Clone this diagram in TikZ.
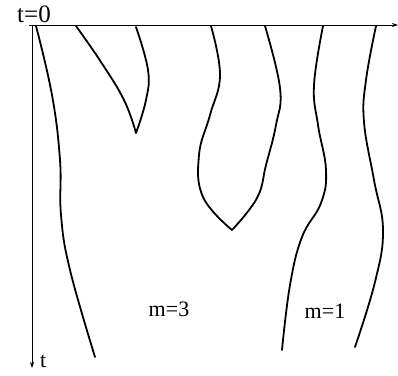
\documentclass[tikz,border=0pt]{standalone}
\usepackage{fontspec}
\setmainfont{Liberation Serif}
\usetikzlibrary{arrows.meta}
\tikzset{
  axis/.style={line width=0.9pt,-{Stealth[length=6pt,width=4pt]}},
  front/.style={line width=1.8pt,line cap=round,line join=round},
  lbl/.style={font=\fontsize{22}{26}\selectfont,inner sep=0pt}
}
\begin{document}
\begin{tikzpicture}[x=1pt,y=-1pt]
\useasboundingbox (0,0) rectangle (398,375);
% axes
\coordinate (o) at (32,25);
\coordinate (hs) at (29,25);
\coordinate (he) at (398,25);
\coordinate (ve) at (32,368);
\draw[axis] (hs) -- (he);
\draw[axis] (o) -- (ve);
\node[lbl,font=\fontsize{25}{28}\selectfont] (t0) at (34,14) {t=0};
\node[lbl,anchor=west] (t) at (40,361) {t};
\node[lbl] (m3) at (169,309) {m=3};
\node[lbl] (m1) at (325,311) {m=1};
% curve 1
\draw[front] plot[smooth,tension=0.7] coordinates {(36,26) (52,95) (60,160) (61,215) (70,270) (95,357)};
% cusp 1
\draw[front] plot[smooth,tension=0.7] coordinates {(76,26) (101,62) (124,100) (136,133)};
\draw[front] plot[smooth,tension=0.7] coordinates {(136,133) (146,100) (148,70) (136,27)};
% cusp 2
\draw[front] plot[smooth,tension=0.7] coordinates {(211,26) (220,75) (210,115) (199,155) (203,197) (232,230)};
\draw[front] plot[smooth,tension=0.7] coordinates {(232,230) (257,198) (266,165) (276,125) (280,88) (265,26)};
% curve 4
\draw[front] plot[smooth,tension=0.7] coordinates {(323,26) (314,85) (318,125) (326,170) (321,203) (302,237) (290,285) (282,350)};
% curve 5
\draw[front] plot[smooth,tension=0.7] coordinates {(376,26) (366,80) (364,122) (374,180) (383,230) (375,282) (355,347)};
\end{tikzpicture}
\end{document}
